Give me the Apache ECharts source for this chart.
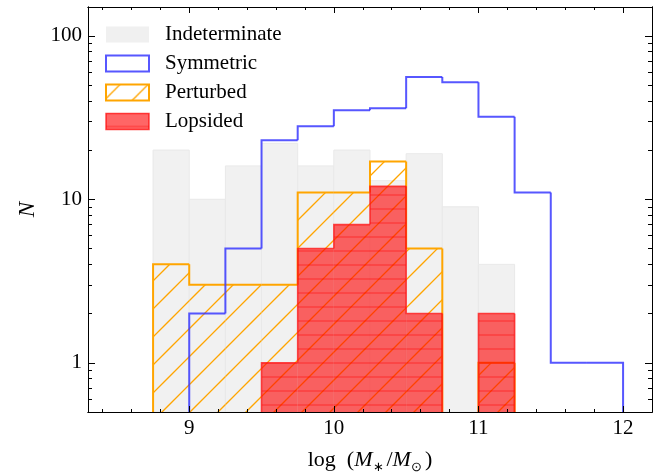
<!DOCTYPE html>
<html>
<head>
<meta charset="utf-8">
<script src="https://cdn.jsdelivr.net/npm/echarts@6/dist/echarts.min.js"></script>
<style>
  html, body { margin: 0; padding: 0; background: #fff; }
  #chart { width: 668px; height: 474px; }
</style>
</head>
<body>
<div id="chart"></div>
<script>
// bin edges (log stellar mass), 0.25 dex wide
const binEdges = [8.75, 9.0, 9.25, 9.5, 9.75, 10.0, 10.25, 10.5, 10.75, 11.0, 11.25, 11.5, 11.75, 12.0];

// counts per bin
const indeterminate = [20, 10, 16, 22, 16, 20, 13, 19, 9, 4, 0, 0, 0];
const symmetric     = [0, 2, 5, 23, 28, 35, 36, 56, 52, 32, 11, 1, 1];
const perturbed     = [4, 3, 3, 3, 11, 11, 17, 5, 0, 1, 0, 0, 0];
const lopsided      = [0, 0, 0, 1, 5, 7, 12, 2, 0, 2, 0, 0, 0];

const xMajorTicks = [9, 10, 11, 12];
const xMinorTicks = [8.4, 8.6, 8.8, 9.2, 9.4, 9.6, 9.8, 10.2, 10.4, 10.6, 10.8, 11.2, 11.4, 11.6, 11.8];
const yMajorTicks = [1, 10, 100];
const yMinorTicks = [0.6, 0.7, 0.8, 0.9, 2, 3, 4, 5, 6, 7, 8, 9, 20, 30, 40, 50, 60, 70, 80, 90];

const FONT = 'Liberation Serif';
const BLUE = 'rgba(50,50,255,0.82)';
const ORANGE = '#ffa500';

// hatch tiles
function diagHatch(color, step, width) {
  const c = document.createElement('canvas');
  c.width = c.height = step;
  const g = c.getContext('2d');
  const h = step / 2;
  g.strokeStyle = color;
  g.lineWidth = width;
  g.beginPath();
  g.moveTo(-1, h + 1); g.lineTo(h + 1, -1);
  g.moveTo(h - 1, step + 1); g.lineTo(step + 1, h - 1);
  g.stroke();
  return c;
}
function horizHatch(bg, color, step, width) {
  const c = document.createElement('canvas');
  c.width = 8; c.height = step;
  const g = c.getContext('2d');
  g.fillStyle = bg;
  g.fillRect(0, 0, 8, step);
  g.fillStyle = color;
  g.fillRect(0, step - 1 - width / 2, 8, width);
  return c;
}
const orangeHatch = { image: diagHatch(ORANGE, 28, 1.3), repeat: 'repeat' };
const redHatch = { image: horizHatch('rgba(255,0,0,0.6)', 'rgba(255,0,0,0.4)', 14, 1.4), repeat: 'repeat' };

function binData(vals) {
  return vals.map((v, i) => [binEdges[i], binEdges[i + 1], v, i > 0 ? vals[i - 1] : 0, i === vals.length - 1 ? 1 : 0]);
}

// one bin of a histogram: optional fill + step outline
function histRenderer(fill, stroke, lineWidth, cellStroke) {
  return function (params, api) {
    const cs = params.coordSys;
    const bottom = cs.y + cs.height;
    const yAt = v => (v > 0 ? Math.min(api.coord([binEdges[0], v])[1], bottom) : bottom);
    const x0 = api.coord([api.value(0), 1])[0];
    const x1 = api.coord([api.value(1), 1])[0];
    const v = api.value(2);
    const prev = api.value(3);
    const y = yAt(v);
    const yPrev = yAt(prev);
    const children = [];
    if (v > 0 && fill) {
      children.push({
        type: 'rect',
        shape: { x: x0, y: y, width: x1 - x0, height: bottom - y },
        style: { fill: fill, stroke: cellStroke || null, lineWidth: cellStroke ? 1 : 0 }
      });
    }
    if (stroke && (v > 0 || prev > 0)) {
      const pts = [[x0, yPrev], [x0, y]];
      if (v > 0) {
        pts.push([x1, y]);
        if (api.value(4) === 1) pts.push([x1, bottom]);
      }
      children.push({
        type: 'polyline',
        shape: { points: pts },
        style: { stroke: stroke, lineWidth: lineWidth, fill: null, lineJoin: 'miter' }
      });
    }
    return { type: 'group', children: children };
  };
}

function xAxisDef(pos, ticks, len, labels) {
  return {
    type: 'value', min: 8.3, max: 12.2, position: pos, z: 10,
    axisLine: { show: true, onZero: false, lineStyle: { color: '#000', width: 1 } },
    axisTick: { show: true, inside: true, length: len, customValues: ticks, lineStyle: { color: '#000', width: 1 } },
    axisLabel: labels
      ? { show: true, customValues: ticks, color: '#000', fontFamily: FONT, fontSize: 21, margin: 6 }
      : { show: false },
    splitLine: { show: false }
  };
}
function yAxisDef(pos, ticks, len, labels) {
  return {
    type: 'log', logBase: 10, min: 0.5, max: 150, position: pos, z: 10,
    axisLine: { show: true, onZero: false, lineStyle: { color: '#000', width: 1 } },
    axisTick: { show: true, inside: true, length: len, customValues: ticks, lineStyle: { color: '#000', width: 1 } },
    axisLabel: labels
      ? { show: true, customValues: ticks, color: '#000', fontFamily: FONT, fontSize: 21, margin: 6 }
      : { show: false },
    splitLine: { show: false },
    minorSplitLine: { show: false }
  };
}

const xAxes = [
  xAxisDef('bottom', xMajorTicks, 6, true),
  xAxisDef('bottom', xMinorTicks, 3, false),
  xAxisDef('top', xMajorTicks, 6, false),
  xAxisDef('top', xMinorTicks, 3, false)
];
Object.assign(xAxes[0], {
  name: '{r|log}{r|  (}{i|M}{s|∗}{r|/}{i|M}{s|⊙}{r|)}',
  nameLocation: 'middle',
  nameGap: 34,
  nameTextStyle: {
    rich: {
      r: { fontFamily: FONT, fontSize: 22, color: '#000', lineHeight: 28, verticalAlign: 'middle' },
      i: { fontFamily: FONT, fontSize: 22, fontStyle: 'italic', color: '#000', lineHeight: 28, verticalAlign: 'middle' },
      s: { fontFamily: FONT, fontSize: 13, color: '#000', lineHeight: 12, verticalAlign: 'bottom', padding: [0, 3, 0, 0] }
    }
  }
});

const yAxes = [
  yAxisDef('left', yMajorTicks, 7, true),
  yAxisDef('left', yMinorTicks, 4, false),
  yAxisDef('right', yMajorTicks, 7, false),
  yAxisDef('right', yMinorTicks, 4, false)
];
Object.assign(yAxes[0], {
  name: 'N',
  nameLocation: 'middle',
  nameGap: 37,
  nameRotate: 90,
  nameTextStyle: { fontFamily: FONT, fontSize: 23, fontStyle: 'italic', color: '#000' }
});

const chart = echarts.init(document.getElementById('chart'), null, { renderer: 'canvas' });
chart.setOption({
  animation: false,
  backgroundColor: '#fff',
  grid: { left: 88, right: 16, top: 7, bottom: 62, containLabel: false, outerBoundsMode: 'none' },
  xAxis: xAxes,
  yAxis: yAxes,
  legend: {
    orient: 'vertical',
    left: 105,
    top: 24,
    padding: 0,
    itemWidth: 43,
    itemHeight: 16,
    itemGap: 8,
    icon: 'rect',
    textStyle: { fontFamily: FONT, fontSize: 21, color: '#000', padding: [0, 0, 0, 11] },
    data: [
      { name: 'Indeterminate', itemStyle: { color: '#f0f0f0', borderWidth: 0 } },
      { name: 'Symmetric', itemStyle: { color: '#fff', borderColor: BLUE, borderWidth: 2 } },
      { name: 'Perturbed', itemStyle: { color: orangeHatch, borderColor: ORANGE, borderWidth: 2 } },
      { name: 'Lopsided', itemStyle: { color: redHatch, borderColor: 'rgba(255,0,0,0.7)', borderWidth: 1.5 } }
    ]
  },
  series: [
    {
      name: 'Indeterminate', type: 'custom', z: 1, clip: true,
      itemStyle: { color: '#f0f0f0' },
      renderItem: histRenderer('#f1f1f1', null, 0, '#e9e9e9'),
      data: binData(indeterminate)
    },
    {
      name: 'Symmetric', type: 'custom', z: 5, clip: true,
      itemStyle: { color: '#fff', borderColor: BLUE, borderWidth: 2 },
      renderItem: histRenderer(null, BLUE, 2),
      data: binData(symmetric)
    },
    {
      name: 'Perturbed', type: 'custom', z: 2, clip: true,
      itemStyle: { color: orangeHatch, borderColor: ORANGE, borderWidth: 2 },
      renderItem: histRenderer(orangeHatch, ORANGE, 2),
      data: binData(perturbed)
    },
    {
      name: 'Lopsided', type: 'custom', z: 3, clip: true,
      itemStyle: { color: redHatch, borderColor: 'rgba(255,0,0,0.7)', borderWidth: 1.5 },
      renderItem: histRenderer(redHatch, 'rgba(255,20,20,0.75)', 1.6),
      data: binData(lopsided)
    }
  ]
});
</script>
</body>
</html>
